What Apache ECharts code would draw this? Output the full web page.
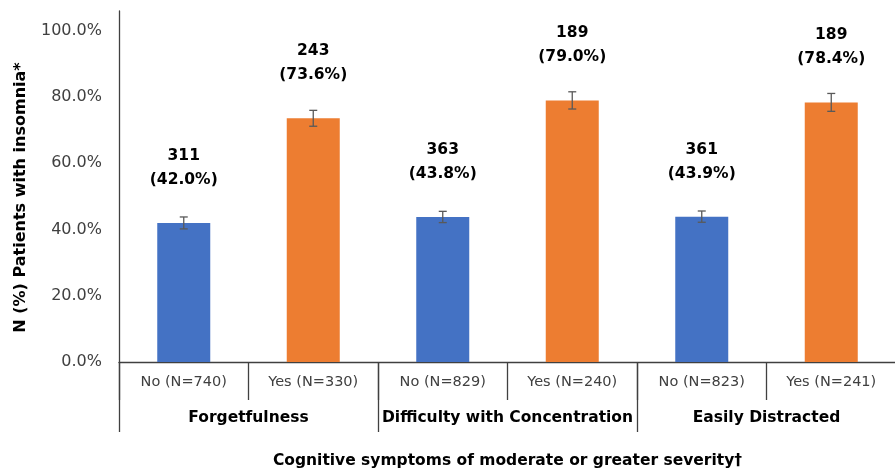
<!DOCTYPE html>
<html><head><meta charset="utf-8">
<script src="https://cdn.jsdelivr.net/npm/echarts@6/dist/echarts.min.js"></script>
<style>html,body{margin:0;padding:0;background:#fff}#c{width:895px;height:470px}</style>
</head><body><div id="c"></div>
<script>
const subCategories = ['No (N=740)','Yes (N=330)','No (N=829)','Yes (N=240)','No (N=823)','Yes (N=241)'];
const groups = ['Forgetfulness','Difficulty with Concentration','Easily Distracted'];
const percents = [42.0, 73.6, 43.8, 79.0, 43.9, 78.4];
const counts = [311, 243, 363, 189, 361, 189];
const errors = [1.8, 2.4, 1.7, 2.6, 1.7, 2.7];
const colors = ['#4472C4','#ED7D31','#4472C4','#ED7D31','#4472C4','#ED7D31'];
const yTicks = [0,20,40,60,80,100];

const font = 'DejaVu Sans, sans-serif';
const chart = echarts.init(document.getElementById('c'));
const gridBox = {left:119, right:-1, top:11, bottom:108, containLabel:false, outerBoundsMode:'none'};
chart.setOption({
  animation:false,
  grid:[Object.assign({},gridBox), Object.assign({},gridBox)],
  xAxis:[
    {type:'category', gridIndex:0, data:subCategories,
     axisLine:{lineStyle:{color:'#404040', width:1.3}},
     axisTick:{show:true, length:38, lineStyle:{color:'#404040', width:1.3}},
     axisLabel:{interval:0, color:'#404040', fontFamily:font, fontSize:14.5, margin:13}},
    {type:'category', gridIndex:1, data:groups,
     axisLine:{show:false},
     axisTick:{show:true, length:70, lineStyle:{color:'#404040', width:1.3}},
     axisLabel:{interval:0, color:'#000', fontFamily:font, fontSize:15.5, fontWeight:'bold', margin:48},
     name:'Cognitive symptoms of moderate or greater severity\u2020', nameLocation:'middle', nameGap:91,
     nameTextStyle:{color:'#000', fontFamily:font, fontSize:15.5, fontWeight:'bold'}},
  ],
  yAxis:[
    {type:'value', gridIndex:0, min:0, max:106, interval:20,
     axisLine:{show:true, lineStyle:{color:'#404040', width:1.3}},
     axisTick:{show:false}, splitLine:{show:false},
     axisLabel:{color:'#404040', fontFamily:font, fontSize:16, margin:17,
       formatter:v => yTicks.includes(v) ? v.toFixed(1)+'%' : ''},
     name:'N (%) Patients with insomnia*', nameLocation:'middle', nameGap:90, nameRotate:90,
     nameTextStyle:{color:'#000', fontFamily:font, fontSize:16, fontWeight:'bold', padding:[0,22,0,0]}},
    {type:'value', gridIndex:1, min:0, max:106, show:false}
  ],
  series:[
    {type:'bar', xAxisIndex:0, yAxisIndex:0, barWidth:53,
     data:percents.map((v,i)=>({value:v, itemStyle:{color:colors[i]}})),
     label:{show:true, position:'top', distance:31, color:'#000', fontFamily:font, fontSize:15.5, fontWeight:'bold', lineHeight:24,
       formatter:p => counts[p.dataIndex] + '\n(' + percents[p.dataIndex].toFixed(1) + '%)'}},
    {type:'custom', xAxisIndex:0, yAxisIndex:0, z:5,
     data:percents.map((v,i)=>[i, v-errors[i], v+errors[i]]),
     renderItem:(params, api) => {
       const lo = api.coord([api.value(0), api.value(1)]);
       const hi = api.coord([api.value(0), api.value(2)]);
       const x = lo[0], w = 4;
       const st = {stroke:'#595959', lineWidth:1.3};
       return {type:'group', children:[
         {type:'line', shape:{x1:x, y1:lo[1], x2:x, y2:hi[1]}, style:st},
         {type:'line', shape:{x1:x-w, y1:lo[1], x2:x+w, y2:lo[1]}, style:st},
         {type:'line', shape:{x1:x-w, y1:hi[1], x2:x+w, y2:hi[1]}, style:st}
       ]};
     }}
  ]
});
</script></body></html>
